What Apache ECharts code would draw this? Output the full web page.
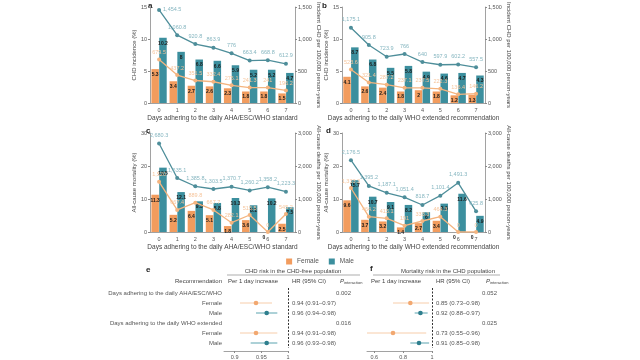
<!DOCTYPE html>
<html><head><meta charset="utf-8">
<script src="https://cdn.jsdelivr.net/npm/echarts@6/dist/echarts.min.js"></script>
<style>html,body{margin:0;padding:0;background:#fff}#c{width:640px;height:360px}</style>
</head><body><div id="c"></div>
<script>
// ---------- data ----------
const days = ['0','1','2','3','4','5','6','7'];
// a: AHA/ESC/WHO standard, CHD incidence
const aFemalePct = [5.3,3.4,2.7,2.6,2.3,1.8,1.8,1.5];
const aMalePct   = [10.2,8,6.8,6.6,5.9,5.2,5.2,4.7];
const aFemaleRate = [679.5,437.2,351.5,332.4,276.1,241.3,241.0,196.2];
const aMaleRate   = [1454.5,1060.8,920.8,863.9,776,663.4,668.8,612.9];
// b: WHO extended, CHD incidence
const bFemalePct = [4.1,2.6,2.4,1.8,2,1.8,1.2,1.3];
const bMalePct   = [8.7,6.8,5.5,5.8,4.9,4.6,4.7,4.3];
const bFemaleRate = [523.6,321.4,287.2,237.1,237.5,222.3,136.4,146.2];
const bMaleRate   = [1175.1,905.8,723.9,766,640,597.9,602.2,557.5];
// c: AHA/ESC/WHO standard, all-cause mortality
const cFemalePct = [11.3,5.2,6.4,5.1,1.8,3.6,0,2.5];
const cMalePct   = [19.5,12.1,9.3,8.8,10.3,8.1,10.2,7.5];
const cFemaleRate = [1520.0,667.4,889.8,667.7,282.1,515.5,0,545.2];
const cMaleRate   = [2680.3,1635.1,1385.8,1303.5,1370.7,1260.2,1358.2,1223.3];
// d: WHO extended, all-cause mortality
const dFemalePct = [9.6,3.7,3.2,1.4,2.7,3.4,0,0];
const dMalePct   = [15.7,10.7,9.1,8.2,6.0,8.6,11.6,4.9];
const dFemaleRate = [1333.3,464.2,415.1,191.0,333.3,464.3,0,0];
const dMaleRate   = [2176.5,1395.2,1187.1,1051.4,818.7,1101.4,1491.3,625.8];
// forest plots
const forestRows = ['Days adhering to the daily AHA/ESC/WHO','Female','Male','Days adhering to the daily WHO extended','Female','Male'];
const forestSex  = [-1,0,1,-1,0,1];
const eEst = [null,0.94,0.96,null,0.94,0.96];
const eLo  = [null,0.91,0.94,null,0.91,0.93];
const eHi  = [null,0.97,0.98,null,0.98,0.98];
const eHR  = ['','0.94 (0.91–0.97)','0.96 (0.94–0.98)','','0.94 (0.91–0.98)','0.96 (0.93–0.98)'];
const eP   = ['0.002','','','0.016','',''];
const fEst = [null,0.85,0.92,null,0.73,0.91];
const fLo  = [null,0.73,0.88,null,0.55,0.85];
const fHi  = [null,0.98,0.97,null,0.96,0.98];
const fHR  = ['','0.85 (0.73–0.98)','0.92 (0.88–0.97)','','0.73 (0.55–0.96)','0.91 (0.85–0.98)'];
const fP   = ['0.052','','','0.025','',''];

// ---------- style ----------
const FONT = "'Liberation Sans', Arial, sans-serif";
const C_F = '#F29C5E', C_M = '#3C8F9E';
const C_FL = '#F4B47F', C_ML = '#4E8E9A';
const C_FT = '#F6C59C', C_MT = '#86B6C0';
const AX = '#8a8a8a', TX = '#555';

const chart = echarts.init(document.getElementById('c'), null, {renderer:'canvas'});
const grids = [], xAxes = [], yAxes = [], series = [];
const fmtNum = v => Number(v).toLocaleString('en-US',{maximumFractionDigits:1});

function panel(g, fP, mP, fR, mR, lMax, lInt, rMax, rInt, lName, rName, xName) {
  grids.push(g);
  const gi = grids.length - 1;
  xAxes.push({type:'category', gridIndex:gi, data:days,
    axisLine:{lineStyle:{color:AX,width:0.8}}, axisTick:{alignWithLabel:true,length:2,lineStyle:{color:AX}},
    axisLabel:{fontSize:5.5,color:TX,margin:4,fontFamily:FONT},
    name:xName, nameLocation:'middle', nameGap:12, nameTextStyle:{fontSize:6.5,color:'#444',fontFamily:FONT}});
  const xi = xAxes.length - 1;
  yAxes.push({type:'value', gridIndex:gi, position:'left', min:0, max:lMax, interval:lInt,
    axisLine:{show:true,lineStyle:{color:AX,width:0.8}}, axisTick:{show:true,length:2,lineStyle:{color:AX}},
    axisLabel:{fontSize:5.5,color:TX,margin:3,fontFamily:FONT}, splitLine:{show:false},
    name:lName, nameLocation:'middle', nameGap:9, nameRotate:90, nameTextStyle:{fontSize:6,color:'#444',fontFamily:FONT}});
  const yl = yAxes.length - 1;
  yAxes.push({type:'value', gridIndex:gi, position:'right', min:0, max:rMax, interval:rInt,
    axisLine:{show:true,lineStyle:{color:AX,width:0.8}}, axisTick:{show:true,length:2,lineStyle:{color:AX}},
    axisLabel:{fontSize:5.5,color:TX,margin:3,fontFamily:FONT,formatter:v=>fmtNum(v)}, splitLine:{show:false},
    name:rName, nameLocation:'middle', nameGap:12, nameRotate:-90, nameTextStyle:{fontSize:6,color:'#444',fontFamily:FONT}});
  const yr = yAxes.length - 1;
  const barLabel = {show:true, position:'insideTop', distance:3, fontSize:5, fontWeight:'bold', color:'#1a1a1a', fontFamily:FONT};
  series.push({name:'Female', type:'bar', xAxisIndex:xi, yAxisIndex:yl, data:fP, barWidth:7.5, barGap:'4%',
    itemStyle:{color:C_F}, label:Object.assign({}, barLabel, {formatter:p=>String(p.value)}), z:2});
  series.push({name:'Male', type:'bar', xAxisIndex:xi, yAxisIndex:yl, data:mP, barWidth:7.5, barGap:'4%',
    itemStyle:{color:C_M}, label:Object.assign({}, barLabel, {formatter:p=>String(p.value)}), z:2});
  series.push({name:'Female rate', type:'line', xAxisIndex:xi, yAxisIndex:yr, data:fR, symbol:'circle', symbolSize:4,
    lineStyle:{color:C_FL,width:1.3}, itemStyle:{color:C_FL}, z:4,
    label:{show:true, position:'top', distance:2, fontSize:5.5, color:C_FT, fontFamily:FONT, formatter:p=>fmtNum(p.value)}});
  // labels near the very top of the plot go to the right of the point so they stay inside the picture
  const mData = mR.map(v => v / rMax > 0.93 ? {value:v, label:{position:'right', distance:2}} : v);
  series.push({name:'Male rate', type:'line', xAxisIndex:xi, yAxisIndex:yr, data:mData, symbol:'circle', symbolSize:4,
    lineStyle:{color:C_ML,width:1.3}, itemStyle:{color:C_ML}, z:5,
    label:{show:true, position:'top', distance:3, fontSize:5.5, color:C_MT, fontFamily:FONT, formatter:p=>fmtNum(p.value)}});
}

panel({left:150,right:345,top:4,bottom:257}, aFemalePct, aMalePct, aFemaleRate, aMaleRate, 15,5,1500,500,
  'CHD incidence (%)','Incident CHD per 100,000 person-years','Days adhering to the daily AHA/ESC/WHO standard');
panel({left:342,right:155,top:4,bottom:257}, bFemalePct, bMalePct, bFemaleRate, bMaleRate, 15,5,1500,500,
  'CHD incidence (%)','Incident CHD per 100,000 person-years','Days adhering to the daily WHO extended recommendation');
panel({left:150,right:345,top:133,bottom:128}, cFemalePct, cMalePct, cFemaleRate, cMaleRate, 30,10,3000,1000,
  'All-cause mortality (%)','All-cause deaths per 100,000 person-years','Days adhering to the daily AHA/ESC/WHO standard');
panel({left:342,right:155,top:133,bottom:128}, dFemalePct, dMalePct, dFemaleRate, dMaleRate, 30,10,3000,1000,
  'All-cause mortality (%)','All-cause deaths per 100,000 person-years','Days adhering to the daily WHO extended recommendation');

// ---------- forest plots ----------
function forest(g, est, lo, hi, hr, pv, xmin, ticks, showRowLabels, pOffset) {
  grids.push(g);
  const gi = grids.length - 1;
  xAxes.push({type:'value', gridIndex:gi, min:xmin, max:1, offset:3,
    axisLine:{show:true,lineStyle:{color:AX,width:0.8}},
    axisTick:{show:true,length:2,customValues:ticks,lineStyle:{color:AX}},
    axisLabel:{fontSize:5.5,color:TX,margin:3,fontFamily:FONT,customValues:ticks,formatter:v=>String(+v.toFixed(2))},
    splitLine:{show:false}});
  const xi = xAxes.length - 1;
  const base = {type:'category', gridIndex:gi, data:forestRows.map((r,i)=>String(i)), inverse:true,
    axisLine:{show:false}, axisTick:{show:false}, splitLine:{show:false}};
  yAxes.push(Object.assign({}, base, {position:'left',
    axisLabel:{show:showRowLabels, fontSize:6, color:TX, margin:2, fontFamily:FONT, formatter:(v)=>forestRows[+v]}}));
  const yi = yAxes.length - 1;
  yAxes.push(Object.assign({}, base, {position:'right',
    axisLabel:{show:true, fontSize:6, color:TX, margin:4, align:'left', fontFamily:FONT, formatter:(v)=>hr[+v]}}));
  yAxes.push(Object.assign({}, base, {position:'right', offset:pOffset,
    axisLabel:{show:true, fontSize:6, color:TX, margin:0, align:'left', fontFamily:FONT, formatter:(v)=>pv[+v]}}));
  const data = [];
  est.forEach((e,i)=>{ if (e!==null) data.push([e, i, lo[i], hi[i], forestSex[i]]); });
  series.push({type:'custom', xAxisIndex:xi, yAxisIndex:yi, data, encode:{x:0,y:1},
    renderItem:(params, api)=>{
      const row = api.value(1);
      const p = api.coord([api.value(0), row]);
      const a = api.coord([api.value(2), row]);
      const b = api.coord([api.value(3), row]);
      const male = api.value(4) === 1;
      return {type:'group', children:[
        {type:'line', shape:{x1:a[0],y1:a[1],x2:b[0],y2:b[1]}, style:{stroke: male ? '#5AA3AF' : '#F7CDAA', lineWidth:1}},
        {type:'circle', shape:{cx:p[0],cy:p[1],r:2.3}, style:{fill: male ? '#2F7F8E' : '#F2A870'}}
      ]};
    },
    markLine:{silent:true, symbol:'none', label:{show:false}, lineStyle:{type:[2,1.5], color:'#333', width:1},
      data:[{xAxis:1}]}
  });
}
forest({left:224,right:352,top:288,bottom:8.5}, eEst, eLo, eHi, eHR, eP, 0.88, [0.9,0.95,1], true, 48);
forest({left:367,right:208,top:288,bottom:8.5}, fEst, fLo, fHi, fHR, fP, 0.55, [0.6,0.8,1], false, 50);

const txt = (x,y,t,o={}) => ({type:'text', x, y, style:Object.assign({text:t, fill:'#444', fontSize:6, fontFamily:FONT, textVerticalAlign:'middle'}, o)});
const graphic = [
  txt(148,6,'a',{fontSize:8,fontWeight:'bold',fill:'#222'}),
  txt(322,6,'b',{fontSize:8,fontWeight:'bold',fill:'#222'}),
  txt(146,131,'c',{fontSize:8,fontWeight:'bold',fill:'#222'}),
  txt(326,131,'d',{fontSize:8,fontWeight:'bold',fill:'#222'}),
  txt(146,270,'e',{fontSize:8,fontWeight:'bold',fill:'#222'}),
  txt(370,269,'f',{fontSize:8,fontWeight:'bold',fill:'#222'}),
  txt(293,271,'CHD risk in the CHD-free population',{textAlign:'center'}),
  {type:'line', shape:{x1:227,y1:275,x2:360,y2:275}, style:{stroke:'#777',lineWidth:0.6}},
  txt(222,281,'Recommendation',{textAlign:'right'}),
  txt(253,281,'Per 1 day increase',{textAlign:'center'}),
  txt(292,281,'HR (95% CI)'),
  {type:'text', x:340, y:281, style:{text:'{p|P}{s|interaction}', fontFamily:FONT, textVerticalAlign:'middle', rich:{p:{fontSize:6,fontStyle:'italic',fill:'#444'}, s:{fontSize:4,fill:'#444',padding:[4,0,0,0]}}}},
  txt(448,271,'Mortality risk in the CHD population',{textAlign:'center'}),
  {type:'line', shape:{x1:373,y1:275,x2:500,y2:275}, style:{stroke:'#777',lineWidth:0.6}},
  txt(396,281,'Per 1 day increase',{textAlign:'center'}),
  txt(436,281,'HR (95% CI)'),
  {type:'text', x:486, y:281, style:{text:'{p|P}{s|interaction}', fontFamily:FONT, textVerticalAlign:'middle', rich:{p:{fontSize:6,fontStyle:'italic',fill:'#444'}, s:{fontSize:4,fill:'#444',padding:[4,0,0,0]}}}}
];

chart.setOption({
  animation:false,
  textStyle:{fontFamily:FONT},
  legend:{data:['Female','Male'], left:'center', top:253, icon:'rect', itemWidth:6, itemHeight:6, itemGap:10,
    textStyle:{fontSize:6.5,color:TX,fontFamily:FONT}},
  grid:grids, xAxis:xAxes, yAxis:yAxes, series, graphic
});
</script></body></html>
